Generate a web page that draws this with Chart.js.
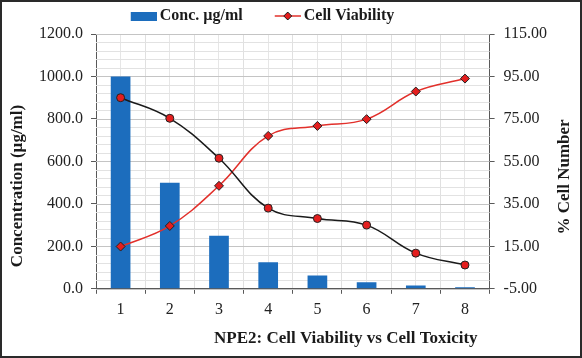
<!DOCTYPE html>
<html>
<head>
<meta charset="utf-8">
<script src="https://cdn.jsdelivr.net/npm/chart.js@4.4.1/dist/chart.umd.min.js"></script>
<style>
  html, body { margin: 0; padding: 0; background: #fff; }
  #frame { width: 582px; height: 358px; box-sizing: border-box; border: 2px solid #2a2a2a; background: #fff; }
  #wrap { position: relative; width: 578px; height: 354px; }
</style>
</head>
<body>
<div id="frame"><div id="wrap"><canvas id="chart"></canvas></div></div>
<script>
// Donnees
const categories = ['1', '2', '3', '4', '5', '6', '7', '8'];
const concentration = [1000, 500, 250, 125, 62.5, 31.25, 15.6, 7.8];
const cellViability = [14.9, 24.6, 43.5, 67.0, 71.7, 74.9, 87.9, 94.0];
const cellToxicity = [85.0, 75.3, 56.5, 33.0, 28.1, 25.0, 11.8, 6.2];
const leftTicks = [0, 200, 400, 600, 800, 1000, 1200];
const rightTicks = [-5, 15, 35, 55, 75, 95, 115];
const xTitle = 'NPE2: Cell Viability vs Cell Toxicity';
const leftTitle = 'Concentration (\u00b5g/ml)';
const rightTitle = '% Cell Number';

const barColor = '#1c6dbd';
const redLine = '#e2302b';
const markerFill = '#e41e1e';
const darkLine = '#1a1a1a';
const textColor = '#1a1a1a';
const serif = '"Liberation Serif", "Times New Roman", serif';
const minorStep = 40; // quadrillage secondaire (5 par graduation)

// Petites icones pour la legende (barre / ligne avec losange)
// le canvas est plus large que l'icone pour creer l'espace entre les items
function legendIcon(kind) {
    const c = document.createElement('canvas');
    c.width = 57;
    c.height = 12;
    const g = c.getContext('2d');
    const x0 = 31;
    if (kind === 'bar') {
        g.fillStyle = barColor;
        g.fillRect(x0, 2, 26, 9);
    } else {
        g.strokeStyle = redLine;
        g.lineWidth = 1.5;
        g.beginPath();
        g.moveTo(x0, 6);
        g.lineTo(x0 + 26, 6);
        g.stroke();
        g.fillStyle = markerFill;
        g.strokeStyle = '#222';
        g.lineWidth = 1;
        g.beginPath();
        g.moveTo(x0 + 13, 2);
        g.lineTo(x0 + 17, 6);
        g.lineTo(x0 + 13, 10);
        g.lineTo(x0 + 9, 6);
        g.closePath();
        g.fill();
        g.stroke();
    }
    return c;
}

// Quadrillage horizontal (principal + secondaire) via l'echelle y
const hGridPlugin = {
    id: 'hGrid',
    beforeDatasetsDraw(chart) {
        const { ctx, chartArea } = chart;
        const y = chart.scales.y;
        ctx.save();
        ctx.lineWidth = 1;
        for (let v = y.min; v <= y.max; v += minorStep) {
            const py = Math.round(y.getPixelForValue(v)) + 0.5;
            ctx.strokeStyle = leftTicks.includes(v) ? '#c4c4c4' : '#e2e2e2';
            ctx.beginPath();
            ctx.moveTo(chartArea.left, py);
            ctx.lineTo(chartArea.right, py);
            ctx.stroke();
        }
        ctx.restore();
    }
};

// Titres des axes dessines a la main (placement Excel)
const titlesPlugin = {
    id: 'axisTitles',
    afterLayout(chart) {
        // legende un peu a gauche du centre
        if (chart.legend) {
            chart.legend.left -= 44;
            chart.legend.right -= 44;
        }
    },
    afterDraw(chart) {
        const { ctx, chartArea } = chart;
        ctx.save();
        ctx.font = 'bold 17px ' + serif;
        ctx.fillStyle = textColor;
        ctx.textAlign = 'center';
        ctx.textBaseline = 'middle';
        ctx.fillText(xTitle, (chartArea.left + chartArea.right) / 2 + 53, chartArea.bottom + 50);

        ctx.save();
        ctx.translate(16, 184);
        ctx.rotate(-Math.PI / 2);
        ctx.fillText(leftTitle, 0, 0);
        ctx.restore();

        ctx.save();
        ctx.translate(563, 175);
        ctx.rotate(-Math.PI / 2);
        ctx.fillText(rightTitle, 0, 0);
        ctx.restore();

        ctx.restore();
    }
};

const ctx = document.getElementById('chart').getContext('2d');
new Chart(ctx, {
    type: 'bar',
    data: {
        labels: categories,
        datasets: [
            {
                type: 'line',
                label: 'Cell Viability',
                data: cellViability,
                yAxisID: 'y1',
                borderColor: redLine,
                borderWidth: 1.5,
                tension: 0.4,
                pointStyle: 'rectRot',
                pointRadius: 4.5,
                pointBackgroundColor: markerFill,
                pointBorderColor: '#222',
                pointBorderWidth: 1,
                order: 1
            },
            {
                type: 'line',
                label: 'Cell Toxicity',
                data: cellToxicity,
                yAxisID: 'y1',
                borderColor: darkLine,
                borderWidth: 1.5,
                tension: 0.4,
                pointStyle: 'circle',
                pointRadius: 4,
                pointBackgroundColor: markerFill,
                pointBorderColor: '#222',
                pointBorderWidth: 1,
                order: 0
            },
            {
                type: 'bar',
                label: 'Conc. \u00b5g/ml',
                data: concentration,
                yAxisID: 'y',
                backgroundColor: barColor,
                categoryPercentage: 1,
                barPercentage: 0.4,
                order: 2
            }
        ]
    },
    options: {
        responsive: true,
        maintainAspectRatio: false,
        animation: false,
        layout: { padding: { left: 29, right: 24, top: 0, bottom: 31 } },
        plugins: {
            tooltip: { enabled: false },
            legend: {
                position: 'top',
                labels: {
                    usePointStyle: true,
                    pointStyleWidth: 47,
                    padding: 6,
                    color: textColor,
                    font: { family: serif, size: 16, weight: 'bold' },
                    generateLabels: () => [
                        { text: 'Conc. \u00b5g/ml', pointStyle: legendIcon('bar'), fontColor: textColor, datasetIndex: 2, lineWidth: 0 },
                        { text: 'Cell Viability', pointStyle: legendIcon('line'), fontColor: textColor, datasetIndex: 0, lineWidth: 0 }
                    ]
                }
            }
        },
        scales: {
            x: {
                type: 'category',
                offset: true,
                grid: { offset: true, color: '#e0e0e0', tickColor: '#595959', tickLength: 5 },
                border: { color: '#595959', width: 1 },
                ticks: { color: '#222', padding: 6, font: { family: serif, size: 16 } }
            },
            xCenter: {
                type: 'category',
                position: 'top',
                offset: true,
                grid: { offset: false, color: '#e6e6e6', drawTicks: false },
                border: { display: false },
                ticks: { display: false }
            },
            y: {
                type: 'linear',
                position: 'left',
                min: leftTicks[0],
                max: leftTicks[leftTicks.length - 1],
                afterBuildTicks: s => { s.ticks = leftTicks.map(v => ({ value: v })); },
                grid: { drawOnChartArea: false, tickColor: '#595959', tickLength: 5 },
                border: { color: '#595959', width: 1 },
                ticks: {
                    color: '#222',
                    padding: 8,
                    font: { family: serif, size: 16 },
                    callback: v => Number(v).toFixed(1)
                }
            },
            y1: {
                type: 'linear',
                position: 'right',
                min: rightTicks[0],
                max: rightTicks[rightTicks.length - 1],
                afterBuildTicks: s => { s.ticks = rightTicks.map(v => ({ value: v })); },
                grid: { drawOnChartArea: false, tickColor: '#595959', tickLength: 5 },
                border: { color: '#595959', width: 1 },
                ticks: {
                    color: '#222',
                    padding: 9,
                    font: { family: serif, size: 16 },
                    callback: v => Number(v).toFixed(2)
                }
            }
        }
    },
    plugins: [hGridPlugin, titlesPlugin]
});
</script>
</body>
</html>
